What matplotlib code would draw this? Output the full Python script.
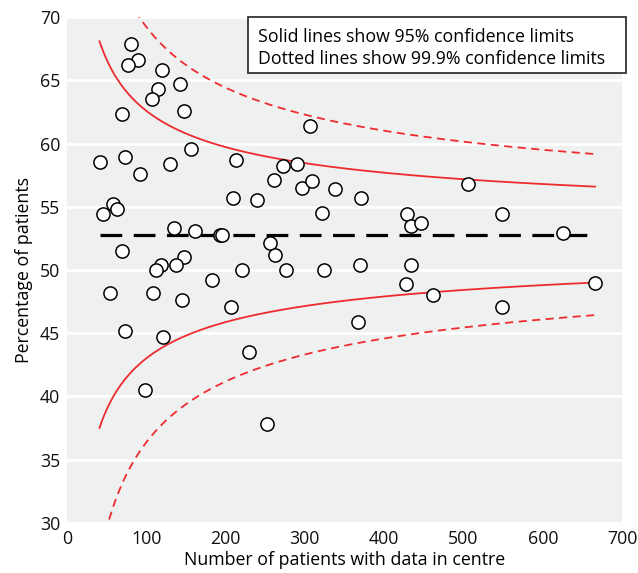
import numpy as np
import matplotlib
matplotlib.use("Agg")
from matplotlib import pyplot as plt
from matplotlib.patches import Rectangle

plt.rcParams['font.family'] = ['Open Sans', 'DejaVu Sans']

# centre size (patients with data) and percentage of patients
centre_n = [81, 90, 77, 120, 142, 115, 107, 69, 147, 156,
            41, 73, 92, 130, 213, 306, 273, 290, 261, 297,
            309, 338, 371, 506, 209, 240, 321, 429, 434, 446,
            46, 58, 63, 135, 161, 193, 195, 625, 70, 147,
            119, 112, 138, 221, 256, 262, 276, 324, 370, 434,
            549, 183, 54, 108, 145, 207, 428, 462, 666, 549,
            367, 73, 121, 230, 99, 252]
centre_pct = [67.9, 66.6, 66.2, 65.8, 64.7, 64.3, 63.5, 62.3, 62.6, 59.6,
              58.5, 58.9, 57.6, 58.4, 58.7, 61.4, 58.2, 58.4, 57.1, 56.5,
              57.0, 56.4, 55.7, 56.8, 55.7, 55.5, 54.5, 54.4, 53.5, 53.7,
              54.4, 55.2, 54.8, 53.3, 53.1, 52.8, 52.8, 52.9, 51.5, 51.0,
              50.4, 50.0, 50.4, 50.0, 52.1, 51.2, 50.0, 50.0, 50.4, 50.4,
              54.4, 49.2, 48.2, 48.2, 47.6, 47.1, 48.9, 48.0, 49.0, 47.1,
              45.9, 45.2, 44.7, 43.5, 40.5, 37.8]

overall_pct = 52.8          # overall percentage (dashed black line)
z95 = 1.96                  # 95% limits
z999 = 3.29                 # 99.9% limits

# funnel limits over the range of centre sizes
n = np.linspace(min(centre_n), max(centre_n), 400)
p = overall_pct / 100
se = np.sqrt(p * (1 - p) / n) * 100

fs = 12.8
fig = plt.figure(figsize=(6.38, 5.73), dpi=100)
ax = fig.add_axes([0.105, 0.0873, 0.87, 0.883])
ax.set_facecolor('#eff0f0')
for s in ax.spines.values():
    s.set_visible(False)

ax.set_yticks(np.arange(30, 71, 5))
ax.set_xticks(np.arange(0, 701, 100))
ax.yaxis.grid(True, color='white', linewidth=2)
ax.set_axisbelow(True)
ax.tick_params(length=0, labelsize=fs, colors='#111111', pad=5)

red = '#ee2b2e'
ax.plot(n, overall_pct + z95 * se, color=red, lw=1.3)
ax.plot(n, overall_pct - z95 * se, color=red, lw=1.3)
ax.plot(n, overall_pct + z999 * se, color=red, lw=1.3, ls=(0, (4.5, 3)))
ax.plot(n, overall_pct - z999 * se, color=red, lw=1.3, ls=(0, (4.5, 3)))
ax.plot([n[0], n[-1]], [overall_pct, overall_pct], color='black', lw=2.3,
        ls=(0, (6.8, 3.6)))

ax.plot(centre_n, centre_pct, 'o', ms=9.5, mfc='white', mec='black', mew=1.1,
        clip_on=False, zorder=5)

ax.set_xlim(0, 700)
ax.set_ylim(30, 70)
ax.set_xlabel('Number of patients with data in centre', fontsize=fs, labelpad=2)
ax.set_ylabel('Percentage of patients', fontsize=fs, labelpad=5)

# note box in the top right corner
fig.patches.append(Rectangle((0.389, 0.8726), 0.592, 0.0977, transform=fig.transFigure,
                             fc='white', ec='#333333', lw=1.3, zorder=6))
fig.text(0.404, 0.9354, 'Solid lines show 95% confidence limits', fontsize=fs,
         va='center', ha='left', zorder=7)
fig.text(0.404, 0.897, 'Dotted lines show 99.9% confidence limits', fontsize=fs,
         va='center', ha='left', zorder=7)

fig.savefig('out.png', dpi=100)
